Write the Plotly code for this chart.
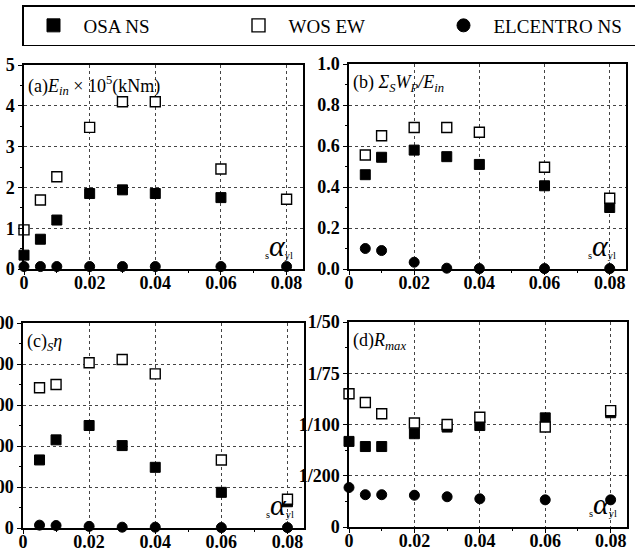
import plotly.graph_objects as go

# ---------------- data ----------------
x_full = [0, 0.005, 0.01, 0.02, 0.03, 0.04, 0.06, 0.08]
x_part = [0.005, 0.01, 0.02, 0.03, 0.04, 0.06, 0.08]

# (a) E_in x 10^5 (kNm)
a_osa = [0.34, 0.73, 1.20, 1.85, 1.94, 1.85, 1.75, None]
a_wos = [0.96, 1.69, 2.26, 3.47, 4.10, 4.10, 2.45, 1.71]
a_elc = [0.06, 0.06, 0.06, 0.06, 0.06, 0.06, 0.06, 0.06]

# (b) sum_s W_p / E_in
b_osa = [0.46, 0.545, 0.58, 0.548, 0.51, 0.406, 0.30]
b_wos = [0.556, 0.65, 0.69, 0.69, 0.667, 0.496, 0.345]
b_elc = [0.10, 0.09, 0.033, 0.004, 0.002, 0.002, 0.002]

# (c) s eta
c_osa = [166, 215, 250, 201, 148, 87, 64]
c_wos = [342, 350, 403, 411, 376, 166, 70]
c_elc = [7, 6, 4, 2, 2, 1, 1]

# (d) R_max (plotted on the equally spaced tick scale below)
d_osa = [1.67, 1.57, 1.57, 1.82, 1.95, 1.98, 2.13, 2.23]
d_wos = [2.60, 2.43, 2.21, 2.03, 2.00, 2.14, 1.95, 2.27]
d_elc = [0.77, 0.63, 0.63, 0.62, 0.59, 0.55, 0.53, 0.53]
d_tickvals = [0, 1, 2, 3, 4]
d_ticktext = ["0", "1/200", "1/100", "1/75", "1/50"]

x_tickvals = [0, 0.02, 0.04, 0.06, 0.08]
x_ticktext = ["0", "0.02", "0.04", "0.06", "0.08"]

series_names = ["OSA NS", "WOS EW", "ELCENTRO NS"]

# ---------------- style ----------------
FONT = "Liberation Serif"
W, H = 635, 551

styles = [
    dict(symbol="square", color="black", size=10, line=dict(color="black", width=1)),
    dict(symbol="square", color="white", size=10, line=dict(color="black", width=1.4)),
    dict(symbol="circle", color="black", size=10, line=dict(color="black", width=1)),
]
legend_styles = [
    dict(symbol="square", color="black", size=13, line=dict(color="black", width=1)),
    dict(symbol="square", color="white", size=13, line=dict(color="black", width=1.4)),
    dict(symbol="circle", color="black", size=13, line=dict(color="black", width=1)),
]

def px_x(a, b):
    return [a / W, b / W]

def px_y(top, bottom):
    return [1 - bottom / H, 1 - top / H]

panels = [
    dict(xd=px_x(24, 303), yd=px_y(65, 269), x=x_full, ys=[a_osa, a_wos, a_elc],
         yr=[0, 5], ytv=[0, 1, 2, 3, 4, 5], ytt=["0", "1", "2", "3", "4", "5"], ydm=0.5,
         title="(a)<i>E<sub>in</sub></i> × 10<sup>5</sup>(kNm)"),
    dict(xd=px_x(349, 626), yd=px_y(64, 269), x=x_part, ys=[b_osa, b_wos, b_elc],
         yr=[0, 1.0], ytv=[0, 0.2, 0.4, 0.6, 0.8, 1.0], ytt=["0.0", "0.2", "0.4", "0.6", "0.8", "1.0"], ydm=0.1,
         title="(b) <i>Σ<sub>S</sub>W<sub>P</sub>/E<sub>in</sub></i>"),
    dict(xd=px_x(23, 304), yd=px_y(323, 528), x=x_part, ys=[c_osa, c_wos, c_elc],
         yr=[0, 500], ytv=[0, 100, 200, 300, 400, 500], ytt=["0", "100", "200", "300", "400", "500"], ydm=50,
         title="(c)<sub><i>S</i></sub><i>η</i>"),
    dict(xd=px_x(349, 627), yd=px_y(322, 527), x=x_full, ys=[d_osa, d_wos, d_elc],
         yr=[0, 4], ytv=d_tickvals, ytt=d_ticktext, ydm=0.5,
         title="(d)<i>R<sub>max</sub></i>"),
]

fig = go.Figure()
layout = dict(
    width=W, height=H,
    margin=dict(l=0, r=0, t=0, b=0, autoexpand=False),
    paper_bgcolor="white", plot_bgcolor="white",
    font=dict(family=FONT, size=17, color="black"),
    showlegend=True,
    legend=dict(orientation="h", x=22 / W, y=1 - 5 / H, xanchor="left", yanchor="top",
                bordercolor="black", borderwidth=1.5, bgcolor="white",
                font=dict(family=FONT, size=19, color="black"),
                entrywidth=140, entrywidthmode="pixels", itemwidth=50,
                tracegroupgap=0),
    annotations=[],
)

for i, p in enumerate(panels):
    n = i + 1
    xa = "x" if n == 1 else f"x{n}"
    ya = "y" if n == 1 else f"y{n}"
    for k in range(3):
        fig.add_trace(go.Scatter(
            x=p["x"], y=p["ys"][k], mode="markers", marker=styles[k],
            xaxis=xa, yaxis=ya, showlegend=False, cliponaxis=False,
            name=series_names[k]))
    axis_common = dict(showline=True, linecolor="black", linewidth=1.5, mirror=True,
                       showgrid=True, gridcolor="#444", griddash="dot", gridwidth=1,
                       zeroline=False, ticks="outside", ticklen=4, tickcolor="black",
                       automargin=False,
                       tickfont=dict(family=FONT, size=18, color="black", weight="bold"))
    layout[f"xaxis{'' if n == 1 else n}"] = dict(
        axis_common, domain=p["xd"], anchor=ya, range=[0, 0.085],
        tickmode="array", tickvals=x_tickvals, ticktext=x_ticktext,
        ticklabelstandoff=-7,
        minor=dict(ticks="outside", ticklen=2, dtick=0.01, tick0=0, showgrid=False, tickcolor="black"))
    layout[f"yaxis{'' if n == 1 else n}"] = dict(
        axis_common, domain=p["yd"], anchor=xa, range=p["yr"],
        tickmode="array", tickvals=p["ytv"], ticktext=p["ytt"],
        minor=dict(ticks="outside", ticklen=2, dtick=p["ydm"], tick0=0, showgrid=False, tickcolor="black"))
    layout["annotations"].append(dict(
        text=p["title"], xref=f"{xa} domain", yref=f"{ya} domain", x=0, y=1,
        xanchor="left", yanchor="top", xshift=2, yshift=-6, showarrow=False,
        font=dict(family=FONT, size=18, color="black")))
    layout["annotations"].append(dict(
        text="<sub>s</sub><span style='font-size:30px'><i>α</i></span><sub>yl</sub>",
        xref=f"{xa} domain", yref=f"{ya} domain", x=1, y=0,
        xanchor="right", yanchor="bottom", xshift=-8, yshift=5, showarrow=False,
        font=dict(family=FONT, size=15, color="black")))

# legend-only traces
for k in range(3):
    fig.add_trace(go.Scatter(x=[None], y=[None], mode="markers", marker=legend_styles[k],
                             name=series_names[k], showlegend=True))

fig.update_layout(**layout)
fig.write_html("out.html")
